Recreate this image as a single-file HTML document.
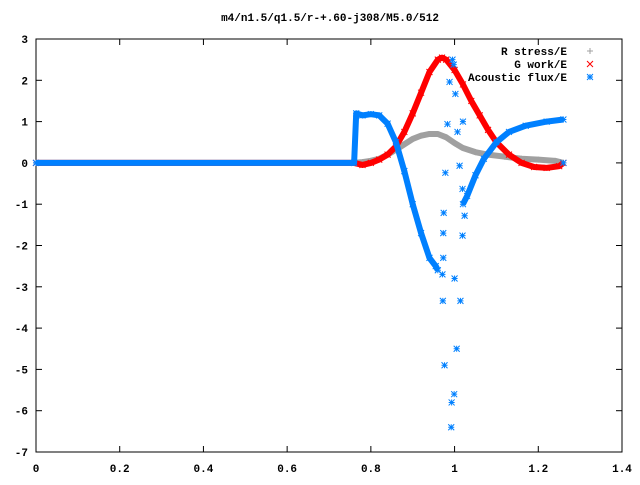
<!DOCTYPE html>
<html><head><meta charset="utf-8"><style>
body{margin:0;background:#fff}
svg text{font-family:"Liberation Mono",monospace;font-size:11px;font-weight:bold}
</style></head><body>
<svg id="c" width="640" height="480" xmlns="http://www.w3.org/2000/svg">
<rect width="640" height="480" fill="#fff"/>
<text x="330" y="21" text-anchor="middle">m4/n1.5/q1.5/r-+.60-j308/M5.0/512</text>
<g id="axes"></g><g id="series"></g><g id="legend"></g>
</svg>
<script>
const xTicks=[0,0.2,0.4,0.6,0.8,1,1.2,1.4];
const xTickLabels=["0","0.2","0.4","0.6","0.8","1","1.2","1.4"];
const yTicks=[3,2,1,0,-1,-2,-3,-4,-5,-6,-7];
const rX=[0,0.76,0.78,0.8,0.82,0.84,0.86,0.88,0.9,0.92,0.94,0.96,0.98,1.0,1.02,1.05,1.08,1.12,1.16,1.2,1.24,1.26];
const rY=[0,0,0.02,0.05,0.1,0.2,0.32,0.45,0.58,0.66,0.7,0.7,0.62,0.48,0.36,0.26,0.2,0.15,0.1,0.08,0.05,0];
const gX=[0,0.76,0.78,0.8,0.82,0.84,0.86,0.88,0.9,0.92,0.94,0.96,0.97,0.98,1.0,1.02,1.04,1.06,1.08,1.1,1.13,1.16,1.19,1.22,1.25,1.26];
const gY=[0,0,-0.05,0,0.08,0.2,0.4,0.75,1.2,1.7,2.2,2.5,2.55,2.5,2.25,1.9,1.5,1.15,0.8,0.5,0.2,0.0,-0.1,-0.12,-0.08,0];
const aX=[0,0.76,0.765,0.78,0.8,0.82,0.84,0.86,0.88,0.9,0.92,0.94,0.955,0.96];
const aY=[0,0,1.2,1.15,1.18,1.15,0.95,0.5,-0.2,-1.0,-1.7,-2.3,-2.5,-2.6];
const aRX=[1.02,1.03,1.05,1.07,1.1,1.13,1.17,1.22,1.26];
const aRY=[-1.0,-0.8,-0.3,0.1,0.5,0.75,0.9,1.0,1.05];
const aSX=[0.995,0.998,0.988,1.002,0.983,1.007,1.012,0.978,1.019,0.974,1.024,0.973,1.019,0.973,1.014,0.971,1.0,0.972,1.005,0.976,0.999,0.993,0.992,1.02];
const aSY=[2.5,2.38,1.96,1.67,0.94,0.75,-0.07,-0.24,-0.63,-1.21,-1.28,-1.7,-1.76,-2.3,-3.34,-2.7,-2.8,-3.34,-4.5,-4.9,-5.6,-5.8,-6.4,1.0];
const aEX=[1.26];const aEY=[0];
const NS="http://www.w3.org/2000/svg";
const L=36,R=622,T=39,B=452;
const sx=v=>L+(v/1.4)*(R-L), sy=v=>T+(3-v)/10*(B-T);
function mk(tag,at,parent){const e=document.createElementNS(NS,tag);for(const k in at)e.setAttribute(k,at[k]);parent.appendChild(e);return e;}
const ax=document.getElementById('axes');
const fr=mk('rect',{x:L,y:T,width:R-L,height:B-T,fill:'none',stroke:'#000','stroke-width':1},ax);


xTicks.forEach((v,i)=>{
 const p=sx(v);
 mk('line',{x1:p,x2:p,y1:B,y2:B-6,stroke:'#000'},ax);
 mk('line',{x1:p,x2:p,y1:T,y2:T+6,stroke:'#000'},ax);
 const t=mk('text',{x:p,y:B+20,'text-anchor':'middle'},ax);t.textContent=xTickLabels[i];
 
 
});
yTicks.forEach(v=>{
 const p=sy(v);
 mk('line',{x1:L,x2:L+6,y1:p,y2:p,stroke:'#000'},ax);
 mk('line',{x1:R,x2:R-6,y1:p,y2:p,stroke:'#000'},ax);
 const t=mk('text',{x:L-8,y:p+4,'text-anchor':'end'},ax);t.textContent=String(v);
 
 
});
const sg=document.getElementById('series');
function marker(g,type,x,y,col){
 const s=3;
 if(type==='plus'){mk('path',{d:`M${x-s} ${y}H${x+s}M${x} ${y-s}V${y+s}`,stroke:col,'stroke-width':1},g);}
 else if(type==='x'){mk('path',{d:`M${x-s} ${y-s}L${x+s} ${y+s}M${x-s} ${y+s}L${x+s} ${y-s}`,stroke:col,'stroke-width':1},g);}
 else {mk('path',{d:`M${x-s} ${y}H${x+s}M${x} ${y-s}V${y+s}M${x-s} ${y-s}L${x+s} ${y+s}M${x-s} ${y+s}L${x+s} ${y-s}`,stroke:col,'stroke-width':1},g);}
}
function series(name,xs,ys,col,type,band){
 const g=mk('g',{},sg);
 
 
 if(band){mk('polyline',{points:xs.map((x,i)=>sx(x)+','+sy(ys[i])).join(' '),fill:'none',stroke:col,'stroke-width':6,'stroke-linejoin':'round'},g);}
 xs.forEach((x,i)=>marker(g,type,sx(x),sy(ys[i]),col));
}
series('r-stress-series',rX,rY,'#a0a0a0','plus',true);
series('g-work-series',gX,gY,'#ff0000','x',true);
series('acoustic-flux-left',aX,aY,'#0080ff','star',true);
series('acoustic-flux-right',aRX,aRY,'#0080ff','star',true);
series('acoustic-flux-scatter',aSX,aSY,'#0080ff','star',false);
series('acoustic-flux-end',aEX,aEY,'#0080ff','star',false);
const lg=document.getElementById('legend');
[['R stress/E','#a0a0a0','plus'],['G work/E','#ff0000','x'],['Acoustic flux/E','#0080ff','star']].forEach((e,i)=>{
 const y=51+i*13;
 const t=mk('text',{x:567,y:y+4,'text-anchor':'end'},lg);t.textContent=e[0];
 
 
 marker(lg,e[2],590,y,e[1]);
});
</script>
</body></html>
